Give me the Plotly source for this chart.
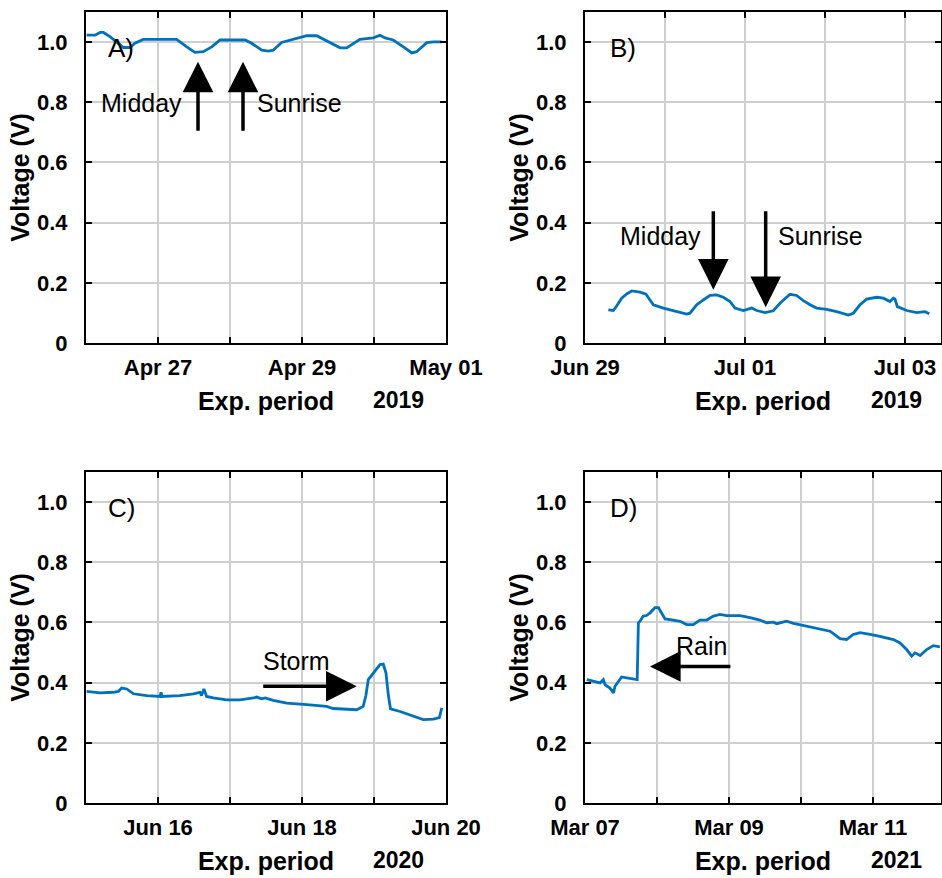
import pandas as pd
import plotly.graph_objects as go

# ---------------- data ----------------
# Panel A (2019, start 2019-04-26 00:00): hours since start, voltage (V)
a_start = "2019-04-26 00:00"
a_hours = [0.2, 3, 4.7, 5.8, 8, 10.8, 12.5, 14.7, 16.3, 19.1, 30.2, 33.6, 36.3, 39.1, 41.9,
           44.7, 53, 55.2, 58.6, 60.8, 62.4, 65.2, 69.1, 73.6, 76.9, 80.2, 84.7, 86.9, 91.3,
           95.8, 98, 99.7, 102.4, 105.8, 108.6, 110.2, 113.6, 115.8, 118.6]
a_volt = [1.023, 1.023, 1.032, 1.032, 1.018, 0.996, 0.982, 0.982, 0.996, 1.009, 1.009, 0.984,
          0.966, 0.968, 0.984, 1.007, 1.007, 0.996, 0.973, 0.970, 0.973, 0.999, 1.010, 1.021,
          1.021, 1.004, 0.981, 0.981, 1.009, 1.014, 1.023, 1.014, 1.007, 0.984, 0.964, 0.968,
          0.998, 1.001, 1.001]

# Panel B (2019, start 2019-06-29 00:00)
b_start = "2019-06-29 00:00"
b_hours = [7.0, 8.5, 9.5, 11.0, 12.5, 14.0, 16.5, 18.3, 19.5, 20.5, 23.5, 26.5, 30.5, 31.5,
           33.5, 35.5, 37.5, 39.5, 41.5, 43.5, 45.0, 47.5, 50.0, 51.5, 54.0, 56.5, 58.5, 61.5,
           63.5, 65.5, 67.5, 69.5, 72.5, 75.5, 79.0, 80.5, 82.5, 84.5, 87.5, 89.5, 91.5, 92.5,
           93.0, 93.7, 96.5, 99.5, 102.0, 103.3]
b_volt = [0.110, 0.108, 0.123, 0.149, 0.163, 0.173, 0.169, 0.162, 0.143, 0.127, 0.116, 0.108,
          0.096, 0.099, 0.127, 0.143, 0.158, 0.160, 0.152, 0.138, 0.116, 0.108, 0.116, 0.108,
          0.101, 0.107, 0.132, 0.162, 0.158, 0.141, 0.127, 0.116, 0.112, 0.104, 0.093, 0.099,
          0.127, 0.146, 0.152, 0.149, 0.138, 0.149, 0.146, 0.121, 0.108, 0.101, 0.104, 0.097]

# Panel C (2020, start 2020-06-15 00:00)
c_start = "2020-06-15 00:00"
c_hours = [0.2, 4.7, 9.1, 10.8, 11.9, 13.6, 15.8, 20.2, 24.7, 25.0, 25.3, 31.3, 35.8, 38.0,
           38.5, 39.3, 40.2, 42.4, 46.9, 51.3, 55.8, 56.9, 58.6, 59.7, 62.4, 66.9, 73.6, 80.2,
           82.4, 86.9, 90.2, 92.4, 93.3, 94.1, 95.8, 98.0, 99.1, 100.0, 100.8, 101.5, 104.7,
           108.0, 111.3, 112.4, 115.8, 117.8, 118.6]
c_volt = [0.371, 0.366, 0.368, 0.371, 0.382, 0.379, 0.363, 0.357, 0.354, 0.368, 0.354, 0.357,
          0.363, 0.368, 0.357, 0.379, 0.354, 0.349, 0.343, 0.343, 0.349, 0.352, 0.346, 0.349,
          0.341, 0.332, 0.327, 0.321, 0.314, 0.312, 0.310, 0.321, 0.357, 0.410, 0.432, 0.460,
          0.462, 0.432, 0.357, 0.313, 0.304, 0.293, 0.282, 0.277, 0.279, 0.284, 0.316]

# Panel D (2021, start 2021-03-07 00:00)
d_start = "2021-03-07 00:00"
d_hours = [0.6, 2.8, 5.0, 6.1, 6.7, 8.3, 9.5, 10.0, 11.1, 12.2, 13.9, 16.1, 17.4, 17.8, 18.3,
           19.4, 20.5, 21.7, 23.3, 24.5, 25.6, 26.7, 29.4, 31.7, 33.9, 36.1, 38.3, 40.6, 42.8,
           45.0, 47.2, 51.7, 55.0, 58.3, 60.6, 62.8, 63.9, 67.2, 69.5, 73.9, 78.3, 81.7, 85.0,
           87.2, 89.4, 91.7, 95.0, 98.3, 102.8, 105.0, 107.2, 108.9, 110.0, 111.7, 113.9,
           116.1, 118.3]
d_volt = [0.410, 0.404, 0.399, 0.410, 0.393, 0.382, 0.366, 0.388, 0.404, 0.419, 0.416, 0.412,
          0.410, 0.599, 0.604, 0.621, 0.623, 0.632, 0.649, 0.649, 0.632, 0.612, 0.608, 0.604,
          0.593, 0.593, 0.608, 0.608, 0.621, 0.627, 0.623, 0.623, 0.616, 0.608, 0.599, 0.601,
          0.596, 0.604, 0.597, 0.588, 0.579, 0.571, 0.546, 0.543, 0.560, 0.566, 0.560, 0.554,
          0.543, 0.532, 0.510, 0.488, 0.499, 0.490, 0.510, 0.523, 0.519]

# axis ticks (one per day, labels every second day)
a_ticks = ["2019-04-27", "2019-04-28", "2019-04-29", "2019-04-30", "2019-05-01"]
a_labels = ["Apr 27", "", "Apr 29", "", "May 01"]
b_ticks = ["2019-06-29", "2019-06-30", "2019-07-01", "2019-07-02", "2019-07-03"]
b_labels = ["Jun 29", "", "Jul 01", "", "Jul 03"]
c_ticks = ["2020-06-16", "2020-06-17", "2020-06-18", "2020-06-19", "2020-06-20"]
c_labels = ["Jun 16", "", "Jun 18", "", "Jun 20"]
d_ticks = ["2021-03-07", "2021-03-08", "2021-03-09", "2021-03-10", "2021-03-11"]
d_labels = ["Mar 07", "", "Mar 09", "", "Mar 11"]

x_ranges = [["2019-04-26 00:00", "2019-05-01 00:00"],
            ["2019-06-29 00:00", "2019-07-03 10:48"],
            ["2020-06-15 00:00", "2020-06-20 00:00"],
            ["2021-03-07 00:00", "2021-03-11 22:40"]]
years = ["2019", "2019", "2020", "2021"]
panel_tags = ["A)", "B)", "C)", "D)"]
y_ticks = [0, 0.2, 0.4, 0.6, 0.8, 1.0]
y_labels = ["0", "0.2", "0.4", "0.6", "0.8", "1.0"]

# ---------------- figure ----------------
FONT = "Liberation Sans, Arial, sans-serif"
BLUE = "#0072BD"
GRID = "#cfcfcf"


def times(start, hours):
    return pd.Timestamp(start) + pd.to_timedelta(hours, unit="h")


fig = go.Figure()
series = [(a_start, a_hours, a_volt), (b_start, b_hours, b_volt),
          (c_start, c_hours, c_volt), (d_start, d_hours, d_volt)]
for i, (st, hh, vv) in enumerate(series):
    k = "" if i == 0 else str(i + 1)
    fig.add_trace(go.Scatter(x=times(st, hh), y=vv, mode="lines",
                             line=dict(color=BLUE, width=2.8),
                             xaxis="x" + k, yaxis="y" + k, showlegend=False,
                             hoverinfo="x+y"))

W, H = 942, 878
xdoms = [[86 / W, 446 / W], [585 / W, 941 / W], [86 / W, 446 / W], [585 / W, 941 / W]]
ydoms = [[1 - 343 / H, 1 - 12 / H], [1 - 343 / H, 1 - 12 / H],
         [1 - 803 / H, 1 - 472 / H], [1 - 803 / H, 1 - 472 / H]]
ticks = [(a_ticks, a_labels), (b_ticks, b_labels), (c_ticks, c_labels), (d_ticks, d_labels)]

layout = dict(width=W, height=H, margin=dict(l=0, r=0, t=0, b=0, autoexpand=False),
              paper_bgcolor="white", plot_bgcolor="white",
              font=dict(family=FONT, color="black"))
common = dict(showline=True, linecolor="black", linewidth=2, mirror="ticks",
              ticks="inside", ticklen=6, tickwidth=2, tickcolor="black",
              showgrid=True, gridcolor=GRID, gridwidth=2, zeroline=False,
              automargin=False)
for i in range(4):
    k = "" if i == 0 else str(i + 1)
    layout["xaxis" + k] = dict(
        common, domain=xdoms[i], anchor="y" + k, type="date", range=x_ranges[i],
        tickmode="array", tickvals=ticks[i][0], ticktext=ticks[i][1],
        tickfont=dict(size=22, weight="bold"), ticklabelstandoff=4,
        title=dict(text="Exp. period", font=dict(size=25, weight="bold"), standoff=13))
    layout["yaxis" + k] = dict(
        common, domain=ydoms[i], anchor="x" + k, range=[0, 1.1],
        tickmode="array", tickvals=y_ticks, ticktext=y_labels,
        tickfont=dict(size=22, weight="bold"), ticklabelstandoff=12,
        title=dict(text="Voltage (V)", font=dict(size=25, weight="bold"), standoff=0))
fig.update_layout(**layout)

ann = []
for i in range(4):
    k = "" if i == 0 else str(i + 1)
    xpos = 0.867 if i % 2 == 0 else 0.876
    ann.append(dict(text=years[i], xref="x" + k + " domain", yref="y" + k + " domain",
                    x=xpos, y=-0.172, showarrow=False, xanchor="center", yanchor="middle",
                    font=dict(size=23, weight="bold")))
    ann.append(dict(text=panel_tags[i], xref="x" + k + " domain", yref="y" + k + " domain",
                    x=0.055 if i % 2 == 0 else 0.065, y=0.89, showarrow=False,
                    xanchor="left", yanchor="middle", font=dict(size=26)))

TXT = dict(size=25)


def label(text, x, y, xr, yr):
    ann.append(dict(text=text, x=x, y=y, xref=xr, yref=yr, showarrow=False,
                    xanchor="center", yanchor="middle", font=TXT))


def arrow(x, y, ax, ay, xr, yr):
    ann.append(dict(text="", x=x, y=y, ax=ax, ay=ay, xref=xr, yref=yr, axref=xr, ayref=yr,
                    showarrow=True, arrowhead=2, arrowsize=1.75, arrowwidth=3.5,
                    arrowcolor="black"))


# Panel A
label("Midday", "2019-04-26 18:20", 0.797, "x", "y")
label("Sunrise", "2019-04-28 23:00", 0.797, "x", "y")
arrow("2019-04-27 13:20", 0.935, "2019-04-27 13:20", 0.70, "x", "y")
arrow("2019-04-28 04:20", 0.935, "2019-04-28 04:20", 0.70, "x", "y")
# Panel B
label("Midday", "2019-06-29 22:30", 0.357, "x2", "y2")
label("Sunrise", "2019-07-01 22:30", 0.357, "x2", "y2")
arrow("2019-06-30 14:30", 0.177, "2019-06-30 14:30", 0.443, "x2", "y2")
arrow("2019-07-01 06:12", 0.119, "2019-07-01 06:12", 0.443, "x2", "y2")
# Panel C
label("Storm", "2020-06-17 22:00", 0.471, "x3", "y3")
arrow("2020-06-18 18:14", 0.388, "2020-06-17 10:34", 0.388, "x3", "y3")
# Panel D
label("Rain", "2021-03-08 14:40", 0.523, "x4", "y4")
arrow("2021-03-07 21:40", 0.454, "2021-03-09 00:58", 0.454, "x4", "y4")

fig.update_layout(annotations=ann)
fig.write_html("out.html")
